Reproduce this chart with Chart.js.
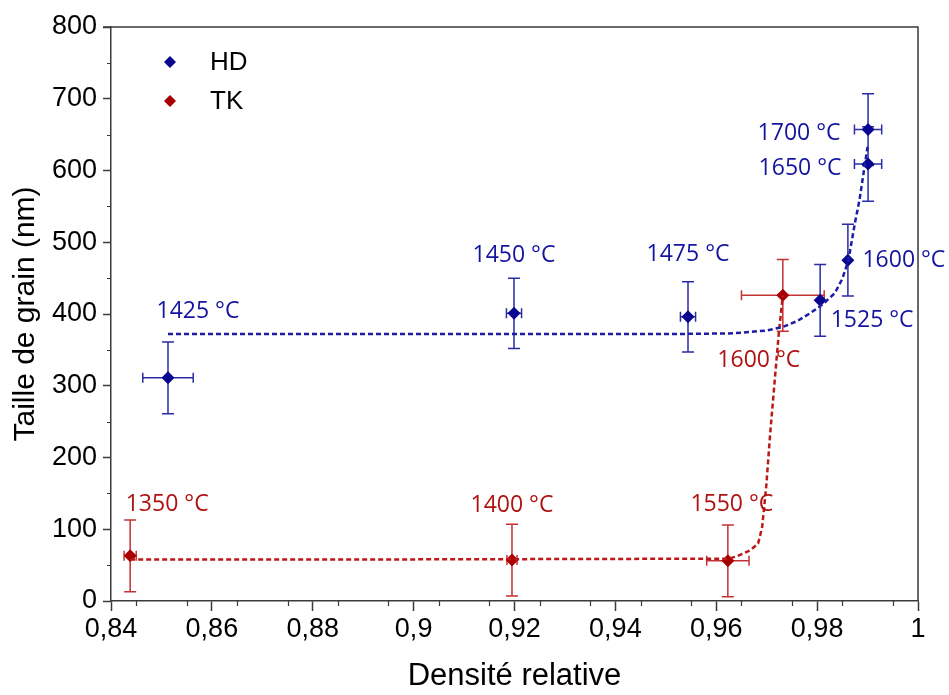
<!DOCTYPE html>
<html>
<head>
<meta charset="utf-8">
<script src="https://cdn.jsdelivr.net/npm/chart.js@4.4.0/dist/chart.umd.min.js"></script>
<style>
  body { margin: 0; background: #fff; }
  canvas { display: block; }
</style>
</head>
<body>
<canvas id="myChart" width="949" height="695"></canvas>
<script>

// ====== data ======

const hdLabels = ['1425 °C', '1450 °C', '1475 °C', '1525 °C', '1600 °C', '1650 °C', '1700 °C']
const hdDensity = [0.8513, 0.9199, 0.9544, 0.9806, 0.9861, 0.9901, 0.9901]
const hdGrain = [311, 401, 396, 419, 475, 609, 657]
const hdDensityErr = [0.005, 0.0015, 0.0015, 0, 0, 0.0027, 0.0027]
const hdGrainErr = [50, 49, 49, 50, 50, 52, 50]

const tkLabels = ['1350 °C', '1400 °C', '1550 °C', '1600 °C']
const tkDensity = [0.8438, 0.9195, 0.9623, 0.9732]
const tkGrain = [63, 57, 56, 426]
const tkDensityErr = [0.0012, 0.001, 0.0042, 0.0082]
const tkGrainErr = [50, 50, 50, 50]

// fitted trend lines (dashed)
const hdFitX = [0.8513, 0.90, 0.95, 0.9633, 0.9700, 0.9732, 0.9760, 0.9786, 0.9812, 0.9835, 0.9850, 0.9862, 0.9875, 0.9884, 0.9895, 0.9900]
const hdFitY = [372, 372, 372, 373, 377, 382, 390, 401, 414, 429, 449, 475, 527, 559, 610, 633]
const tkFitX = [0.8438, 0.90, 0.9623, 0.9640, 0.9653, 0.9668, 0.9683, 0.9691, 0.9699, 0.9707, 0.9716, 0.9724, 0.9732]
const tkFitY = [58, 58, 59, 62, 66, 71, 80, 103, 159, 234, 308, 373, 426]

const xTickValues = [0.84, 0.86, 0.88, 0.9, 0.92, 0.94, 0.96, 0.98, 1]
const yTickValues = [0, 100, 200, 300, 400, 500, 600, 700, 800]

// ===================\\

const blueColor = '#07078f'
const blueLight = '#2b2ba6'
const redColor = '#a80000'
const redLight = '#c43235'
const axisColor = '#3a3a3a'
const labelFont = '"Liberation Sans", Arial, sans-serif'

// label offsets from each point (px)
const hdLabelOffsets = [[30, -66], [0, -58], [0, -62], [52, 20], [56, 0], [-68, 4], [-69, 4]]
const tkLabelOffsets = [[37, -51], [0, -55], [4, -56], [-24, 65]]

function toPoints(xs, ys) {
    return xs.map((x, i) => ({ x: x, y: ys[i] }))
}

// ====== plugins ======

const frame = {
    id: 'frame',
    afterDraw(chart) {
        const { ctx, chartArea, scales } = chart
        ctx.save()
        ctx.strokeStyle = axisColor
        ctx.lineWidth = 1.5
        // top + right border
        ctx.beginPath()
        ctx.moveTo(chartArea.left - 8, chartArea.top)
        ctx.lineTo(chartArea.right, chartArea.top)
        ctx.lineTo(chartArea.right, chartArea.bottom)
        ctx.stroke()
        // minor ticks
        ctx.lineWidth = 1.2
        ctx.beginPath()
        for (let v = 0.845; v < 1; v += 0.01) {
            const px = Math.round(scales.x.getPixelForValue(v)) + 0.5
            ctx.moveTo(px, chartArea.bottom)
            ctx.lineTo(px, chartArea.bottom + 5)
        }
        for (let v = 50; v < 800; v += 100) {
            const py = Math.round(scales.y.getPixelForValue(v)) + 0.5
            ctx.moveTo(chartArea.left, py)
            ctx.lineTo(chartArea.left - 4, py)
        }
        ctx.stroke()
        ctx.restore()
    }
}

function drawBars(chart, xs, ys, xe, ye, color) {
    const { ctx, scales } = chart
    ctx.strokeStyle = color
    ctx.lineWidth = 1.5
    ctx.beginPath()
    xs.forEach((d, i) => {
        const px = scales.x.getPixelForValue(d)
        const py = scales.y.getPixelForValue(ys[i])
        if (ye[i] > 0) {
            const top = scales.y.getPixelForValue(ys[i] + ye[i])
            const bot = scales.y.getPixelForValue(ys[i] - ye[i])
            ctx.moveTo(px, top); ctx.lineTo(px, bot)
            ctx.moveTo(px - 6, top); ctx.lineTo(px + 6, top)
            ctx.moveTo(px - 6, bot); ctx.lineTo(px + 6, bot)
        }
        if (xe[i] > 0) {
            const l = scales.x.getPixelForValue(d - xe[i])
            const r = scales.x.getPixelForValue(d + xe[i])
            ctx.moveTo(l, py); ctx.lineTo(r, py)
            ctx.moveTo(l, py - 5); ctx.lineTo(l, py + 5)
            ctx.moveTo(r, py - 5); ctx.lineTo(r, py + 5)
        }
    })
    ctx.stroke()
}

const errorBars = {
    id: 'errorBars',
    beforeDatasetsDraw(chart) {
        chart.ctx.save()
        drawBars(chart, hdDensity, hdGrain, hdDensityErr, hdGrainErr, blueLight)
        drawBars(chart, tkDensity, tkGrain, tkDensityErr, tkGrainErr, redLight)
        chart.ctx.restore()
    }
}

function drawLabels(chart, xs, ys, labels, offsets, color) {
    const { ctx, scales } = chart
    ctx.fillStyle = color
    labels.forEach((t, i) => {
        const px = scales.x.getPixelForValue(xs[i])
        const py = scales.y.getPixelForValue(ys[i])
        ctx.fillText(t, px + offsets[i][0], py + offsets[i][1])
    })
}

const pointLabels = {
    id: 'pointLabels',
    afterDatasetsDraw(chart) {
        const ctx = chart.ctx
        ctx.save()
        ctx.font = '23px "Open Sans", sans-serif'
        ctx.textAlign = 'center'
        ctx.textBaseline = 'middle'
        drawLabels(chart, hdDensity, hdGrain, hdLabels, hdLabelOffsets, '#1414a0')
        drawLabels(chart, tkDensity, tkGrain, tkLabels, tkLabelOffsets, '#b01212')
        ctx.restore()
    }
}

// legend inside the plot
const insideLegend = {
    id: 'insideLegend',
    afterDraw(chart) {
        const ctx = chart.ctx
        const area = chart.chartArea
        ctx.save()
        ctx.font = '26px ' + labelFont
        ctx.textBaseline = 'middle'
        ctx.textAlign = 'left'
        const items = chart.data.datasets.filter(ds => ds.inLegend)
        items.forEach((ds, i) => {
            const cx = area.left + 59
            const cy = area.top + 35 + i * 39
            ctx.fillStyle = ds.backgroundColor
            ctx.beginPath()
            ctx.moveTo(cx, cy - 6); ctx.lineTo(cx + 6, cy)
            ctx.lineTo(cx, cy + 6); ctx.lineTo(cx - 6, cy)
            ctx.closePath()
            ctx.fill()
            ctx.fillStyle = '#000'
            ctx.fillText(ds.label, cx + 40, cy + 1)
        })
        ctx.restore()
    }
}

// ====== chart ======

const ctx = document.getElementById('myChart')

const data = {
    datasets: [{
        label: 'HD fit',
        data: toPoints(hdFitX, hdFitY),
        showLine: true,
        borderColor: '#1c1ca8',
        borderWidth: 2.5,
        borderDash: [5, 3],
        pointRadius: 0,
        tension: 0,
    }, {
        label: 'TK fit',
        data: toPoints(tkFitX, tkFitY),
        showLine: true,
        borderColor: '#bb1818',
        borderWidth: 2.5,
        borderDash: [5, 3],
        pointRadius: 0,
        tension: 0,
    }, {
        label: 'HD',
        inLegend: true,
        data: toPoints(hdDensity, hdGrain),
        backgroundColor: blueColor,
        borderColor: blueColor,
        pointStyle: 'rectRot',
        pointRadius: 6.5,
        borderWidth: 0,
    }, {
        label: 'TK',
        inLegend: true,
        data: toPoints(tkDensity, tkGrain),
        backgroundColor: redColor,
        borderColor: redColor,
        pointStyle: 'rectRot',
        pointRadius: 6.5,
        borderWidth: 0,
    }]
}

new Chart(ctx, {
    type: 'scatter',
    data: data,
    plugins: [errorBars, pointLabels, insideLegend, frame],
    options: {
        responsive: false,
        animation: false,
        layout: { padding: { top: 27, right: 31, left: 0, bottom: 0 } },
        plugins: {
            legend: { display: false },
            tooltip: { enabled: false },
        },
        scales: {
            x: {
                type: 'linear',
                min: 0.84,
                max: 1,
                afterBuildTicks: (scale) => { scale.ticks = xTickValues.map(v => ({ value: v })) },
                afterFit: (scale) => { scale.height = 94 },
                ticks: {
                    color: '#000',
                    padding: 2,
                    maxRotation: 0,
                    autoSkip: false,
                    font: { family: labelFont, size: 27 },
                    callback: (v) => String(Math.round(v * 100) / 100).replace('.', ','),
                },
                grid: {
                    drawOnChartArea: false,
                    drawTicks: true,
                    tickLength: 10,
                    tickColor: axisColor,
                    tickWidth: 1.5,
                },
                border: { display: true, color: axisColor, width: 1.5 },
                title: {
                    display: true,
                    text: 'Densité relative',
                    color: '#000',
                    font: { family: labelFont, size: 31 },
                    padding: { top: 0, bottom: 0 },
                },
            },
            y: {
                min: 0,
                max: 800,
                afterBuildTicks: (scale) => { scale.ticks = yTickValues.map(v => ({ value: v })) },
                afterFit: (scale) => { scale.width = 111 },
                ticks: {
                    color: '#000',
                    padding: 6,
                    font: { family: labelFont, size: 27 },
                },
                grid: {
                    drawOnChartArea: false,
                    drawTicks: true,
                    tickLength: 8,
                    tickColor: axisColor,
                    tickWidth: 1.5,
                },
                border: { display: true, color: axisColor, width: 1.5 },
                title: {
                    display: true,
                    text: 'Taille de grain (nm)',
                    color: '#000',
                    font: { family: labelFont, size: 30 },
                    padding: { top: 8, bottom: 0 },
                },
            }
        }
    }
})

</script>
</body>
</html>
